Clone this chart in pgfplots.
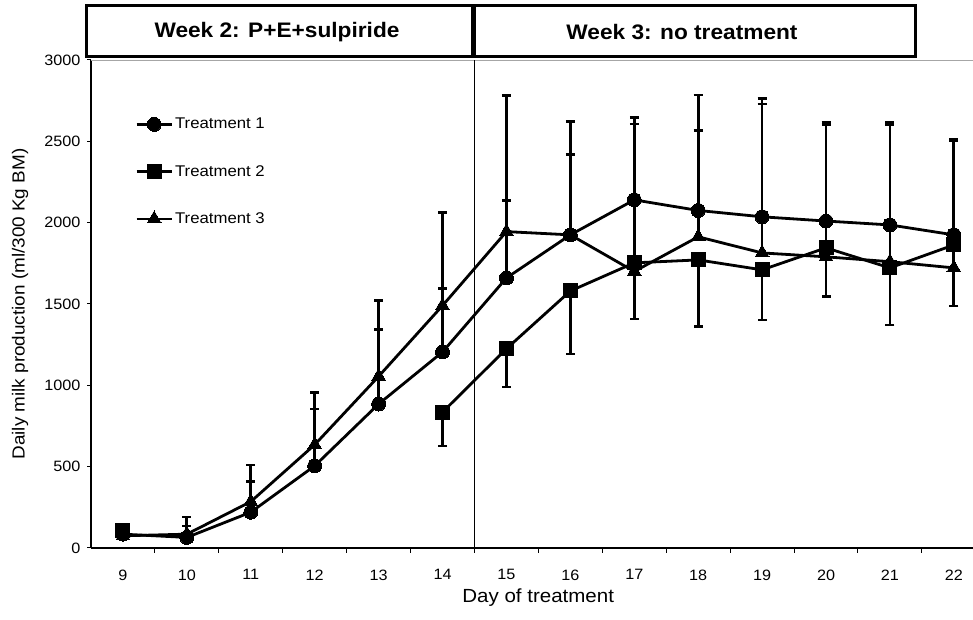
\documentclass[border=0pt]{standalone}
\usepackage{fontspec}
\setmainfont{Liberation Sans}[FakeStretch=1.08]
\usepackage{pgfplots}
\pgfplotsset{compat=1.18}
\begin{document}
\begin{tikzpicture}
\begin{axis}[
  at={(91pt,72pt)}, anchor=south west,
  scale only axis, width=882pt, height=488pt,
  xmin=8.5, xmax=22.3, ymin=0, ymax=3000,
  axis x line*=bottom, axis y line*=left,
  axis line style={line width=1.2pt},
  xtick={9,...,22},
  minor xtick={9.5,10.5,...,21.5},
  major x tick style={draw=none},
  minor x tick style={line width=1pt, black},
  minor tick length=5pt,
  ytick={0,500,...,3000},
  y tick style={line width=1pt, black},
  major tick length=4pt,
  tick align=outside,
  /pgf/number format/assume math mode=true,
  /pgf/number format/1000 sep={},
  tick label style={font=\fontsize{15}{17}\selectfont},
  xticklabel style={yshift=-14pt},
  yticklabel style={xshift=-3pt},
  xlabel={Day of treatment},
  ylabel={Daily milk production (ml/300 Kg BM)},
  xlabel style={font=\fontsize{19}{21}\selectfont, at={(axis description cs:0.507,-0.1025)}, anchor=center},
  ylabel style={font=\fontsize{17.5}{19}\selectfont, at={(axis description cs:-0.0805,0.5)}, anchor=center},
  legend style={at={(rel axis cs:0.05,0.885)}, anchor=north west, draw=none, fill=none,
    font=\fontsize{15.5}{17}\selectfont, row sep=31pt, inner sep=0pt,
    nodes={inner sep=2pt}},
  legend cell align=left,
  legend image code/.code={\draw[mark repeat=2,mark phase=2,#1] plot coordinates {(0pt,0pt) (17.5pt,0pt) (35pt,0pt)};},
  cycle list={{black}},
  clip=false,
]
% top boundary line and week separator
\draw[line width=0.6pt, gray!70] (axis cs:8.5,3000) -- (axis cs:22.3,3000);
\draw[line width=0.8pt] (axis cs:14.5,0) -- (axis cs:14.5,3000);

% Treatment 1
\addplot[black, line width=2.8pt, mark=*, mark size=7pt, mark options={solid, fill=black, line width=0pt},
  error bars/.cd, y dir=plus, y explicit,
  error mark options={rotate=90, mark size=4.5pt, line width=2.8pt, black},
  error bar style={line width=2.8pt, black}]
coordinates {
(9,85) +- (0,25)
(10,65) +- (0,70)
(11,220) +- (0,190)
(12,505) +- (0,350)
(13,885) +- (0,460)
(14,1205) +- (0,390)
(15,1660) +- (0,475)
(16,1925) +- (0,695)
(17,2140) +- (0,505)
(18,2075) +- (0,710)
(19,2036) +- (0,725)
(20,2010) +- (0,605)
(21,1986) +- (0,630)
(22,1925) +- (0,585)
};
\addlegendentry{Treatment 1}

% Treatment 2
\addplot[black, line width=2.8pt, mark=square*, mark size=7pt, mark options={solid, fill=black, line width=0pt},
  error bars/.cd, y dir=minus, y explicit,
  error mark options={rotate=90, mark size=4.5pt, line width=2.8pt, black},
  error bar style={line width=2.8pt, black}]
coordinates {
(14,835) +- (0,208)
(15,1225) +- (0,235)
(16,1580) +- (0,387)
(17,1753) +- (0,345)
(18,1771) +- (0,411)
(19,1710) +- (0,308)
(20,1845) +- (0,301)
(21,1722) +- (0,351)
(22,1863) +- (0,375)
};
\addlegendentry{Treatment 2}
\addplot[forget plot, black, line width=2.8pt, mark=square*, mark size=7pt, mark options={solid, fill=black, line width=0pt},
  error bars/.cd, y dir=minus, y explicit,
  error mark options={rotate=90, mark size=4.5pt, line width=2.8pt, black},
  error bar style={line width=2.8pt, black}]
coordinates {
(9,105) +- (0,25)
};

% Treatment 3
\addplot[black, line width=2.8pt, mark=triangle*, mark size=8pt, mark options={solid, fill=black, line width=0pt},
  error bars/.cd, y dir=plus, y explicit,
  error mark options={rotate=90, mark size=4.5pt, line width=2.8pt, black},
  error bar style={line width=2.8pt, black}]
coordinates {
(9,75) +- (0,30)
(10,85) +- (0,105)
(11,285) +- (0,225)
(12,635) +- (0,320)
(13,1055) +- (0,465)
(14,1490) +- (0,570)
(15,1945) +- (0,835)
(16,1925) +- (0,495)
(17,1700) +- (0,907)
(18,1913) +- (0,652)
(19,1814) +- (0,916)
(20,1790) +- (0,815)
(21,1760) +- (0,845)
(22,1722) +- (0,780)
};
\addlegendentry{Treatment 3}
\end{axis}
% header boxes
\draw[line width=3pt] (86.5pt,563.5pt) rectangle (474.5pt,614.5pt);
\draw[line width=3pt] (472.5pt,563.5pt) rectangle (915.5pt,614.5pt);
\node[font=\bfseries\fontsize{21}{24}\selectfont] at (277pt,588pt) {Week 2: P+E+sulpiride};
\node[font=\bfseries\fontsize{21}{24}\selectfont] at (682pt,588pt) {Week 3: no treatment};
\pgfresetboundingbox
\useasboundingbox (0,0) rectangle (973pt,620pt);
\end{tikzpicture}
\end{document}
